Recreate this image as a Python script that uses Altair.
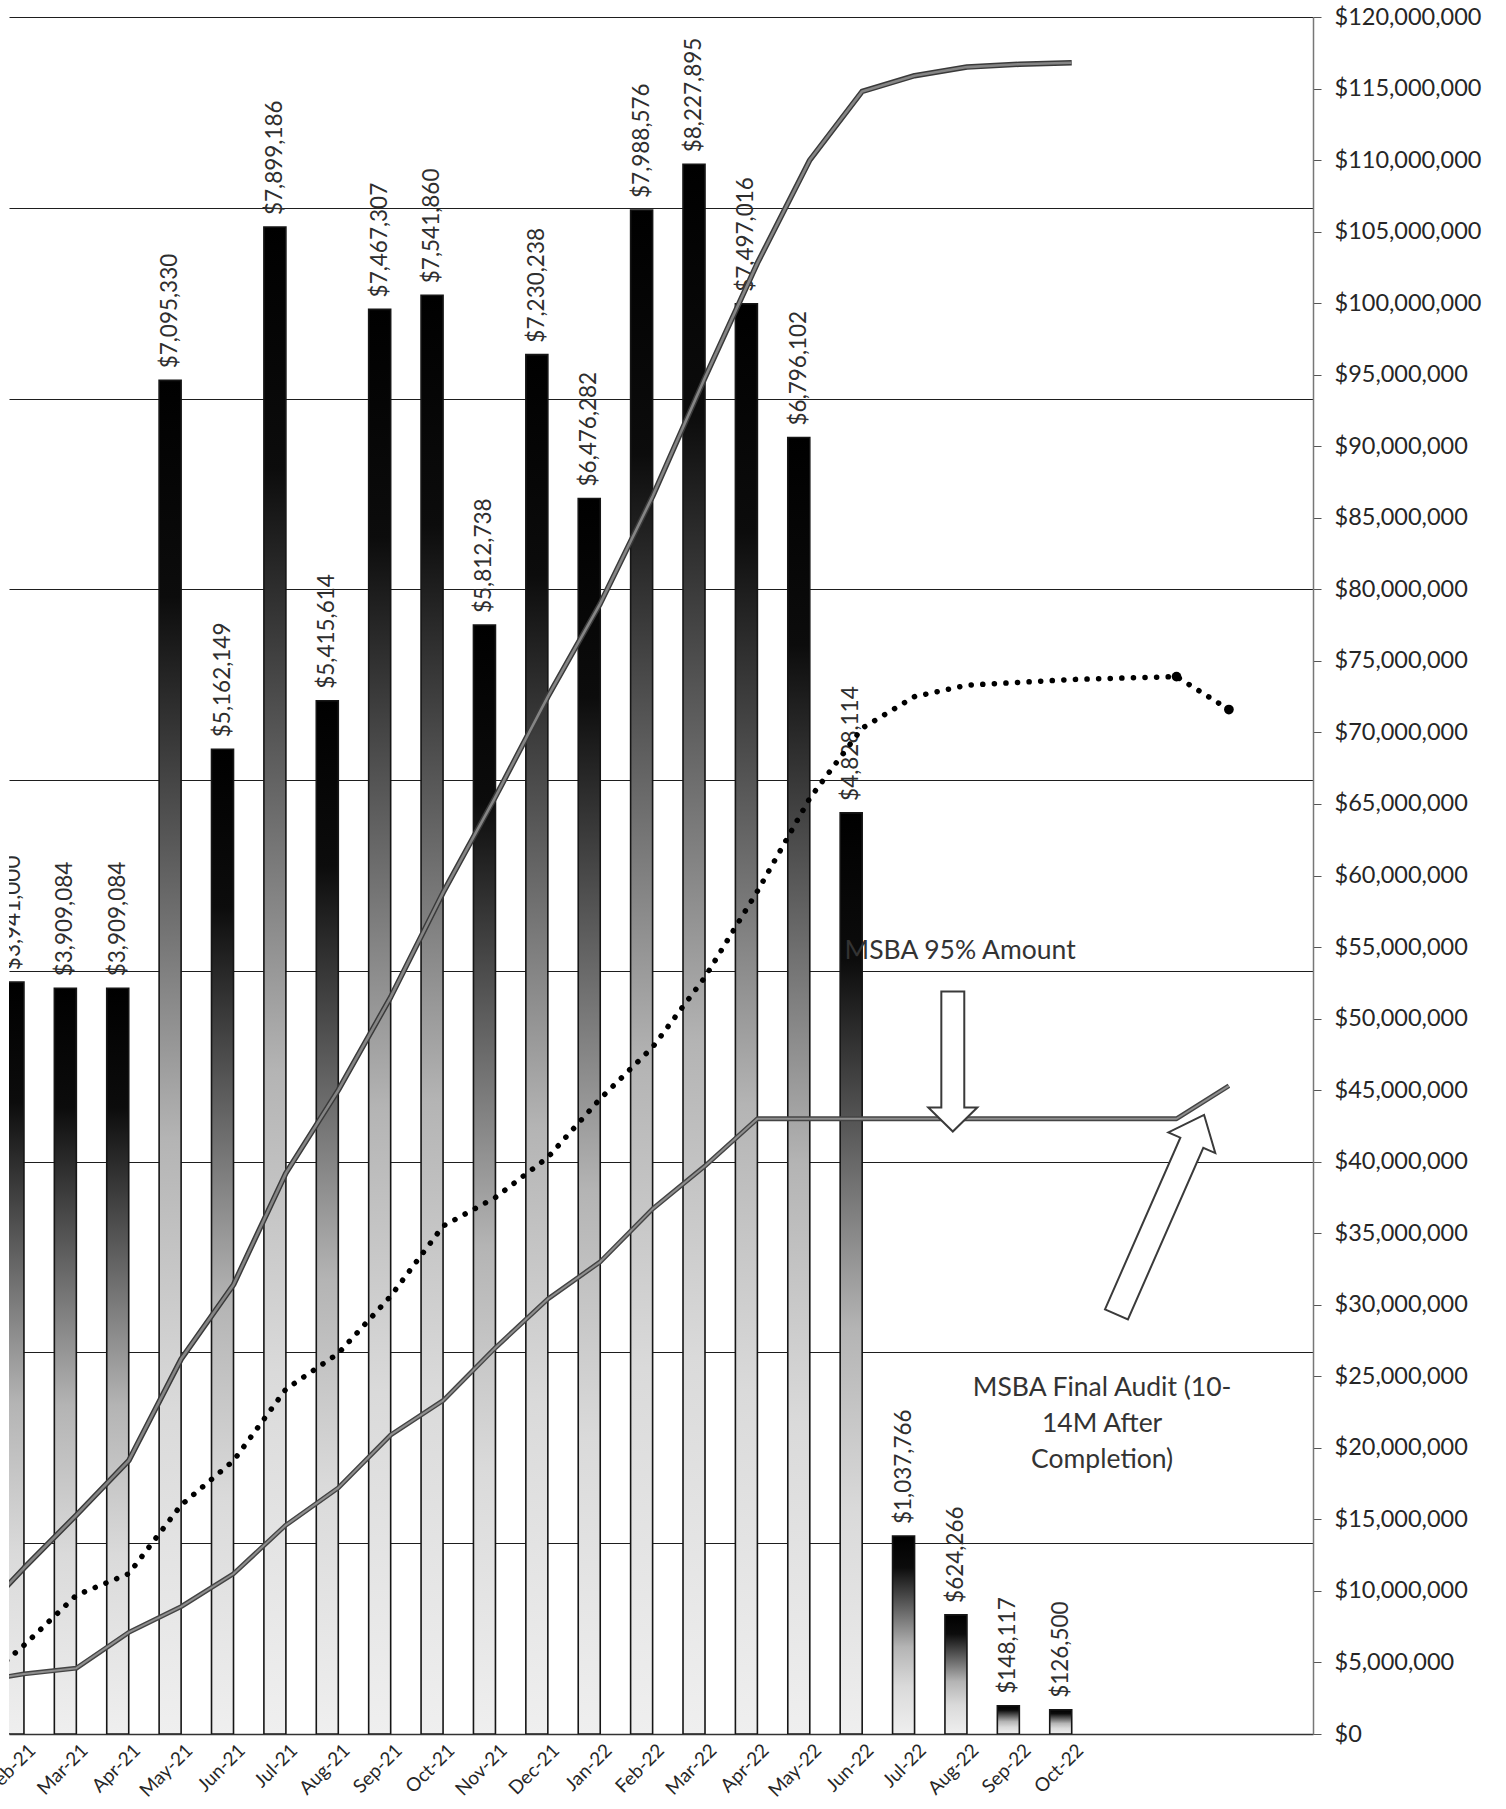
import altair as alt
import pandas as pd

# ---------------- data ----------------
months = ["Jan-21", "Feb-21", "Mar-21", "Apr-21", "May-21", "Jun-21", "Jul-21",
          "Aug-21", "Sep-21", "Oct-21", "Nov-21", "Dec-21", "Jan-22", "Feb-22",
          "Mar-22", "Apr-22", "May-22", "Jun-22", "Jul-22", "Aug-22", "Sep-22",
          "Oct-22", "Nov-22", "Dec-22", "Jan-23", "Feb-23"]

bar_months = ["Feb-21", "Mar-21", "Apr-21", "May-21", "Jun-21", "Jul-21", "Aug-21",
              "Sep-21", "Oct-21", "Nov-21", "Dec-21", "Jan-22", "Feb-22", "Mar-22",
              "Apr-22", "May-22", "Jun-22", "Jul-22", "Aug-22", "Sep-22", "Oct-22"]
bar_values = [3941000, 3909084, 3909084, 7095330, 5162149, 7899186, 5415614,
              7467307, 7541860, 5812738, 7230238, 6476282, 7988576, 8227895,
              7497016, 6796102, 4828114, 1037766, 624266, 148117, 126500]

# cumulative actual spend (solid upper line), Jan-21 .. Oct-22
cum_months = months[0:22]
cum_values = [7.7e6, 11.6e6, 15.3e6, 19.1e6, 26.2e6, 31.4e6, 39.2e6, 45.0e6, 51.5e6,
              58.8e6, 65.5e6, 72.5e6, 79.0e6, 86.5e6, 94.8e6, 102.8e6, 110.0e6,
              114.8e6, 115.9e6, 116.5e6, 116.7e6, 116.8e6]

# dotted line, Jan-21 .. Jan-23
proj_months = months[0:25]
proj_values = [3.0e6, 6.2e6, 9.7e6, 11.2e6, 16.0e6, 19.1e6, 24.1e6, 26.6e6, 30.6e6,
               35.5e6, 37.5e6, 40.3e6, 44.4e6, 48.0e6, 52.9e6, 58.9e6, 65.4e6,
               70.3e6, 72.5e6, 73.3e6, 73.5e6, 73.7e6, 73.8e6, 73.9e6, 71.6e6]

# MSBA line (solid lower line), Jan-21 .. Jan-23
msba_months = months[0:25]
msba_values = [3.6e6, 4.2e6, 4.6e6, 7.1e6, 8.9e6, 11.2e6, 14.6e6, 17.2e6, 20.9e6,
               23.3e6, 27.0e6, 30.4e6, 33.0e6, 36.7e6, 39.7e6, 43.0e6, 43.0e6,
               43.0e6, 43.0e6, 43.0e6, 43.0e6, 43.0e6, 43.0e6, 43.0e6, 45.3e6]

# annotations (position in category index / dollar value)
note_texts = ["MSBA 95% Amount", "MSBA Final Audit (10-\n14M After\nCompletion)"]
note_pos_i = [18.87, 21.58]
note_pos_v = [54.7e6, 24.2e6]

arrow_down_i = [18.73]
arrow_down_v = [47.0e6]
arrow_diag_i = [22.69]
arrow_diag_v = [36.3e6]

# ---------------- tables ----------------
bars_df = pd.DataFrame({"i": [months.index(m) for m in bar_months], "value": bar_values})
cum_df = pd.DataFrame({"i": [months.index(m) for m in cum_months], "v": cum_values})
proj_df = pd.DataFrame({"i": [months.index(m) for m in proj_months], "v": proj_values})
msba_df = pd.DataFrame({"i": [months.index(m) for m in msba_months], "v": msba_values})
notes_df = pd.DataFrame({"i": note_pos_i, "v": note_pos_v, "t": note_texts})
down_df = pd.DataFrame({"i": arrow_down_i, "v": arrow_down_v})
diag_df = pd.DataFrame({"i": arrow_diag_i, "v": arrow_diag_v})

FONT = "Lato, 'DejaVu Sans', sans-serif"
INK = "#262626"

label_expr = "[" + ",".join("'%s'" % m for m in months) + "][datum.value]"
x_scale = alt.Scale(domain=[0.81, 25.51], nice=False, zero=False)
x_axis = alt.Axis(values=list(range(1, 22)), labelExpr=label_expr, labelAngle=-45,
                  labelAlign="right", labelBaseline="middle", labelFont=FONT,
                  labelFontSize=19, labelColor=INK, labelPadding=13, labelOffset=8,
                  ticks=False, grid=False, domainColor="#333", domainWidth=1.5,
                  title=None, labelOverlap=False, labelFlush=False, labelBound=False)


def xenc():
    return alt.X("i:Q", scale=x_scale, axis=x_axis)


def ybar():
    return alt.Y("value:Q", scale=alt.Scale(domain=[0, 9000000], nice=False),
                 axis=alt.Axis(orient="left", values=list(range(0, 9000001, 1000000)),
                               labels=False, ticks=False, domain=False, grid=True,
                               gridColor="#1e1e1e", gridWidth=1.2, title=None))


def yline():
    return alt.Y("v:Q", scale=alt.Scale(domain=[0, 120000000], nice=False),
                 axis=alt.Axis(orient="right", values=list(range(0, 120000001, 5000000)),
                               format="$,.0f", labelFont=FONT, labelFontSize=23.5,
                               labelColor=INK, labelPadding=13, tickSize=8,
                               tickColor="#555", domainColor="#777", domainWidth=1.5,
                               grid=False, title=None))


bar_fill = alt.Gradient(
    gradient="linear", x1=0, x2=0, y1=0, y2=1,
    stops=[alt.GradientStop(color="#000000", offset=0),
           alt.GradientStop(color="#0c0c0c", offset=0.16),
           alt.GradientStop(color="#606060", offset=0.36),
           alt.GradientStop(color="#b4b4b4", offset=0.56),
           alt.GradientStop(color="#dadada", offset=0.76),
           alt.GradientStop(color="#efefef", offset=1)])

bars = alt.Chart(bars_df).mark_bar(
    size=22, xOffset=-11, clip=True, fill=bar_fill, stroke="#161616", strokeWidth=1.6
).encode(x=xenc(), y=ybar())


def bar_label_layer(flt, clip):
    return alt.Chart(bars_df).transform_filter(flt).mark_text(
        angle=270, align="left", baseline="middle", xOffset=-11, yOffset=-12,
        font=FONT, fontSize=22.5, color="#2e2e2e", clip=clip
    ).encode(x=xenc(), y=ybar(), text=alt.Text("value:Q", format="$,.0f"))


# the first (cropped) label is clipped at the plot's left edge, like the scan
bar_labels_edge = bar_label_layer("datum.i < 2", True)
bar_labels = bar_label_layer("datum.i >= 2", False)

bar_group = alt.layer(bars, bar_labels_edge, bar_labels)

top_outer = alt.Chart(cum_df).mark_line(clip=True, color="#3a3a3a", strokeWidth=5.5,
                                        strokeJoin="round").encode(x=xenc(), y=yline())
top_inner = alt.Chart(cum_df).mark_line(clip=True, color="#858585", strokeWidth=2.6,
                                        strokeJoin="round").encode(x=xenc(), y=yline())
low_outer = alt.Chart(msba_df).mark_line(clip=True, color="#444444", strokeWidth=4.8,
                                         strokeJoin="round").encode(x=xenc(), y=yline())
low_inner = alt.Chart(msba_df).mark_line(clip=True, color="#8e8e8e", strokeWidth=2,
                                         strokeJoin="round").encode(x=xenc(), y=yline())
dotted = alt.Chart(proj_df).mark_line(clip=True, color="#000000", strokeWidth=5.5,
                                      strokeDash=[0.1, 11.5], strokeCap="round"
                                      ).encode(x=xenc(), y=yline())
markers = alt.Chart(proj_df).transform_filter("datum.i >= 23").mark_point(
    filled=True, size=95, color="#000000", opacity=1
).encode(x=xenc(), y=yline())

notes = alt.Chart(notes_df).mark_text(
    font=FONT, fontSize=26.5, color="#333", align="center", baseline="middle",
    lineBreak="\n", lineHeight=36
).encode(x=xenc(), y=yline(), text="t:N")

down_path = "M-0.164,-1L0.164,-1L0.164,0.657L0.35,0.657L0,1L-0.35,0.657L-0.164,0.657Z"
up_path = "M-0.115,1L0.115,1L0.115,-0.72L0.235,-0.72L0,-1L-0.235,-0.72L-0.115,-0.72Z"

down_arrow = alt.Chart(down_df).mark_point(
    shape=down_path, size=140 * 140, filled=True, fill="white", stroke="#3a3a3a",
    strokeWidth=2, opacity=1, fillOpacity=1, strokeOpacity=1
).encode(x=xenc(), y=yline())

diag_arrow = alt.Chart(diag_df).mark_point(
    shape=up_path, size=218 * 218, angle=23.7, filled=True, fill="white",
    stroke="#3a3a3a", strokeWidth=2, opacity=1, fillOpacity=1, strokeOpacity=1
).encode(x=xenc(), y=yline())

line_group = alt.layer(top_outer, top_inner, low_outer, low_inner, dotted, markers,
                       down_arrow, diag_arrow, notes)

chart = alt.layer(bar_group, line_group).resolve_scale(y="independent").properties(
    width=1304, height=1717,
    autosize=alt.AutoSizeParams(type="none"),
    padding={"left": 9, "top": 17, "right": 193, "bottom": 75},
    background="white",
).configure_view(stroke=None)

chart.save("out.html", embed_options={"renderer": "svg", "actions": False})
